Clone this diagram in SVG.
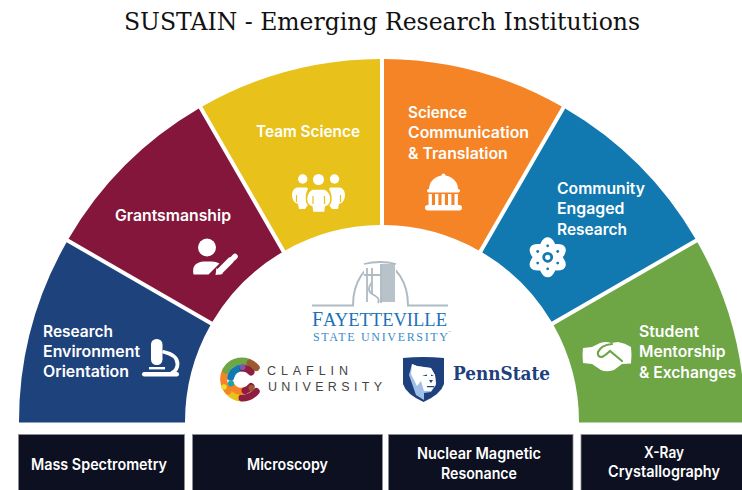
<svg xmlns="http://www.w3.org/2000/svg" width="742" height="490" viewBox="0 0 742 490">
<style>
.l{font-family:"Inter","Noto Sans","Liberation Sans",sans-serif;font-weight:600;font-size:15.5px;fill:#fff}
.box{fill:#0c1020;stroke:#8e9096;stroke-width:.8}
.w{fill:#fff}
.ws{fill:none;stroke:#fff;stroke-linecap:round}
</style>
<rect width="742" height="490" fill="#fff"/>
<text id="title" x="124" y="30" font-family="'DejaVu Serif','Liberation Serif',serif" font-size="24" fill="#111" textLength="516" lengthAdjust="spacingAndGlyphs">SUSTAIN - Emerging Research Institutions</text>

<g id="research-environment">
<path fill="#1e427c" d="M19,422.5A363,363 0 0 1 66.6,242.2L210.4,325.3A197,197 0 0 0 185,422.5Z"/>
<text class="l" x="43" y="337" textLength="70" lengthAdjust="spacingAndGlyphs">Research</text>
<text class="l" x="43" y="357" textLength="97" lengthAdjust="spacingAndGlyphs">Environment</text>
<text class="l" x="43" y="377" textLength="86" lengthAdjust="spacingAndGlyphs">Orientation</text>
<rect class="w" x="151" y="339" width="11.5" height="26" rx="5.5"/>
<rect class="w" x="149" y="367" width="16" height="2.4"/>
<path class="ws" stroke-width="3.8" stroke-linecap="butt" d="M164,352Q177.5,355 177.5,364Q177.5,370 172,373"/>
<rect class="w" x="142" y="372" width="37" height="4.4" rx="2.2"/>
</g>

<g id="grantsmanship">
<path fill="#84163b" d="M68.6,238.8A363,363 0 0 1 198.8,108.6L281.8,252.4A197,197 0 0 0 212.4,321.8Z"/>
<text class="l" x="115" y="221" textLength="116" lengthAdjust="spacingAndGlyphs">Grantsmanship</text>
<circle class="w" cx="207" cy="247.5" r="9"/>
<path class="w" d="M193.5,274.5Q191,263 203,261.5L212,261.5Q216,261.5 219.5,263.5L208.5,274.5Z"/>
<path class="ws" stroke-width="6.5" stroke-linecap="butt" d="M220,271L230.5,260.5"/>
<path class="w" d="M215.5,275L216.5,268L223,274Z"/>
<path class="ws" stroke-width="5.5" d="M233.5,258L235,256.5"/>
</g>

<g id="team-science">
<path fill="#e9c11b" d="M202.2,106.6A363,363 0 0 1 380,59L380,225A197,197 0 0 0 285.3,250.4Z"/>
<text class="l" x="256" y="137" textLength="104" lengthAdjust="spacingAndGlyphs">Team Science</text>
<circle class="w" cx="302.7" cy="179" r="4.7"/>
<circle class="w" cx="318.5" cy="179.5" r="5.5"/>
<circle class="w" cx="334.5" cy="179" r="4.7"/>
<path class="w" d="M297,187.5L306,187.5Q309,187.5 307,191Q304,198 308,205L305,209L299,209L298,204Q292,202 292,195Q292,189 297,187.5Z"/>
<path class="w" d="M340,187.5L331,187.5Q328,187.5 330,191Q333,198 329,205L332,209L338,209L339,204Q345,202 345,195Q345,189 340,187.5Z"/>
<path class="w" stroke="#e9c11b" stroke-width="1.5" d="M312,189L325,189Q331,192 331,199Q331,205 325.5,207L325,212.5L312.5,212.5L312,207Q306.5,205 306.5,199Q306.5,192 312,189Z"/>
<path fill="none" stroke="#e9c11b" stroke-width="1.2" d="M313,196V204M324.5,196V204M296.5,195V202M340.5,195V202"/>
</g>

<g id="science-communication">
<path fill="#f58426" d="M384,59A363,363 0 0 1 561.8,106.6L478.7,250.4A197,197 0 0 0 384,225Z"/>
<text class="l" x="408" y="118" textLength="59" lengthAdjust="spacingAndGlyphs">Science</text>
<text class="l" x="408" y="138" textLength="121" lengthAdjust="spacingAndGlyphs">Communication</text>
<text class="l" x="408" y="159" textLength="99.7" lengthAdjust="spacingAndGlyphs">&amp; Translation</text>
<circle class="w" cx="443.5" cy="175.5" r="2"/>
<path class="w" d="M429,189A14.5,13.5 0 0 1 458,189Z"/>
<rect class="w" x="427" y="189" width="33" height="3.5" rx="1.7"/>
<path class="w" d="M428.5,194h3.4v11h-3.4zM435,194h3.4v11h-3.4zM441.5,194h3.4v11h-3.4zM448,194h3.4v11h-3.4zM454.5,194h3.4v11h-3.4z"/>
<rect class="w" x="425" y="205" width="37" height="5.5" rx="2.7"/>
</g>

<g id="community-engaged">
<path fill="#1179b0" d="M565.2,108.6A363,363 0 0 1 695.4,238.8L551.6,321.8A197,197 0 0 0 482.2,252.4Z"/>
<text class="l" x="557" y="194" textLength="88" lengthAdjust="spacingAndGlyphs">Community</text>
<text class="l" x="557" y="214" textLength="67.5" lengthAdjust="spacingAndGlyphs">Engaged</text>
<text class="l" x="557" y="235" textLength="70" lengthAdjust="spacingAndGlyphs">Research</text>
<g class="w">
<ellipse cx="547.7" cy="257.3" rx="20" ry="10" transform="rotate(30 547.7 257.3)"/>
<ellipse cx="547.7" cy="257.3" rx="20" ry="10" transform="rotate(90 547.7 257.3)"/>
<ellipse cx="547.7" cy="257.3" rx="20" ry="10" transform="rotate(150 547.7 257.3)"/>
</g>
<circle cx="547.7" cy="257.3" r="4" fill="none" stroke="#1179b0" stroke-width="2.8"/>
<g fill="#1179b0">
<circle cx="547.7" cy="245.8" r="1.4"/><circle cx="547.7" cy="268.8" r="1.4"/>
<circle cx="537.7" cy="251.5" r="1.4"/><circle cx="557.7" cy="251.5" r="1.4"/>
<circle cx="537.7" cy="263.1" r="1.4"/><circle cx="557.7" cy="263.1" r="1.4"/>
</g>
</g>

<g id="student-mentorship">
<path fill="#6ea545" d="M697.4,242.2A363,363 0 0 1 745,422.5L579,422.5A197,197 0 0 0 553.6,325.3Z"/>
<text class="l" x="639" y="337" textLength="60" lengthAdjust="spacingAndGlyphs">Student</text>
<text class="l" x="639" y="357" textLength="86.5" lengthAdjust="spacingAndGlyphs">Mentorship</text>
<text class="l" x="639" y="378" textLength="97" lengthAdjust="spacingAndGlyphs">&amp; Exchanges</text>
<path class="w" d="M583,348L592,347L600,343Q606,341 611,343L618,342Q625,343 631,347Q632,355 631,363.5L622,364L614,370Q606,372.5 601,370L592,364L583,363Q582,355 583,348Z"/>
<path fill="none" stroke="#6ea545" stroke-width="2.2" stroke-linecap="round" d="M612,344Q601,345 598,352Q597,357 602,357Q606,355 610,351L622,361"/>
</g>

<g id="fayetteville">
<path fill="none" stroke="#aebbc3" stroke-width="2" d="M312,305.5L353,305.5A27.5,42 0 0 1 408,305.5L448,305.5"/>
<rect x="364" y="263" width="32" height="42" fill="#fff"/>
<rect x="381" y="264" width="14" height="38" fill="#b7c2c9"/>
<path fill="none" stroke="#aebbc3" stroke-width="1.8" d="M364,264Q380,260 396,264M367,268V302M372,268V294M364,275H381M372,282Q366,290 372,294Q381,298 378,303M381,264V303"/>
<text x="312" y="326" font-family="'Liberation Serif',serif" font-size="19.5" fill="#1a72b8" textLength="135" lengthAdjust="spacingAndGlyphs"><tspan font-size="21">F</tspan>AYETTEVILLE</text>
<text x="313" y="340.7" font-family="'Liberation Serif',serif" font-size="12" fill="#3a8cc9" textLength="135" lengthAdjust="spacing">STATE UNIVERSITY</text>
<text x="448" y="333" font-family="'Liberation Sans',sans-serif" font-size="3" fill="#3a8cc9">™</text>
</g>

<g id="claflin">
<g fill="none" stroke-width="7" stroke-linecap="round">
<path stroke="#e9c11b" d="M228,391A18.5,18.5 0 0 0 242,398"/>
<path stroke="#8f1d3f" d="M242,398A18.5,18.5 0 0 0 256.2,391.4"/>
<path stroke="#f58426" d="M226,370.2A18.5,18.5 0 0 0 228,391"/>
<path stroke="#6ea545" d="M226,370.2A18.5,18.5 0 0 1 248.3,362.1"/>
<path stroke="#9b5a32" d="M250,363A18.5,18.5 0 0 1 256.2,367.6"/>
<path stroke="#f58426" d="M231,385A11.5,11.5 0 0 0 245,390.6"/>
<path stroke="#8f1d3f" d="M245,390.6A11.5,11.5 0 0 0 251,386.5"/>
<path stroke="#1179b0" d="M230.7,377.3A11.5,11.5 0 0 1 242,368"/>
<path stroke="#8f1d3f" d="M243,368A11.5,11.5 0 0 1 251,372"/>
</g>
<circle cx="224" cy="387" r="2.8" fill="#e9dd2c"/>
<circle cx="231" cy="383.5" r="3" fill="#17a5a8"/>
<circle cx="242.5" cy="367" r="3" fill="#7c5ba6"/>
<circle cx="251.5" cy="388" r="3" fill="#9b5a32"/>
<text x="267" y="375" font-family="'Liberation Sans',sans-serif" font-size="12.5" fill="#444" textLength="81" lengthAdjust="spacing">CLAFLIN</text>
<text x="268" y="391" font-family="'Liberation Sans',sans-serif" font-size="12.5" fill="#444" textLength="114" lengthAdjust="spacing">UNIVERSITY</text>
</g>

<g id="pennstate">
<path fill="#1e407c" d="M403,358Q423,356 444,358L444,384Q441,394 423.5,402Q406,394 403,384Z"/>
<path fill="#9fc0e6" d="M412,364L417,366L431,368L435,375L436,385L431,392L424,393L424,400L416,395L409,375Z"/>
<path fill="#fff" d="M412,364L417,366L431,368L435,375L436,384L431,391L424,391L421,381L417,386L411,374Z"/>
<path fill="#1e407c" d="M422,376L427,374.5L427,376ZM431,374.5L434,376L431,376ZM427,386h7v1.2h-7zM429,380l4,0l-2,3z"/>
<text x="453" y="379.5" font-family="'DejaVu Serif',serif" font-weight="700" font-size="19" fill="#1e407c" textLength="97" lengthAdjust="spacingAndGlyphs">PennState</text>
</g>

<g id="mass-spectrometry">
<rect class="box" x="18.5" y="434.5" width="166" height="60"/>
<text class="l" x="31" y="470" textLength="136" lengthAdjust="spacingAndGlyphs">Mass Spectrometry</text>
</g>
<g id="microscopy">
<rect class="box" x="192.5" y="434.5" width="190" height="60"/>
<text class="l" x="247" y="470" textLength="81" lengthAdjust="spacingAndGlyphs">Microscopy</text>
</g>
<g id="nmr">
<rect class="box" x="388.5" y="434.5" width="184.5" height="60"/>
<text class="l" x="417" y="459" textLength="124" lengthAdjust="spacingAndGlyphs">Nuclear Magnetic</text>
<text class="l" x="441" y="479" textLength="76" lengthAdjust="spacingAndGlyphs">Resonance</text>
</g>
<g id="xray">
<rect class="box" x="581" y="434.5" width="170" height="60"/>
<text class="l" x="644" y="458" textLength="40" lengthAdjust="spacingAndGlyphs">X-Ray</text>
<text class="l" x="608" y="477" textLength="112" lengthAdjust="spacingAndGlyphs">Crystallography</text>
</g>
</svg>
